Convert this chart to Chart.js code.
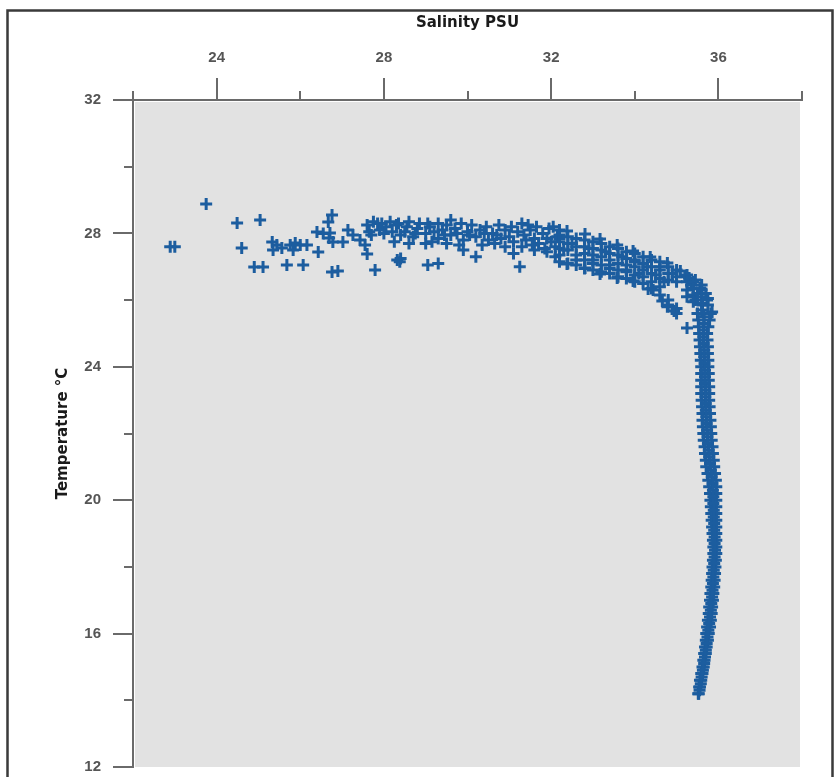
<!DOCTYPE html>
<html><head><meta charset="utf-8">
<script src="https://cdn.jsdelivr.net/npm/chart.js@4.4.1/dist/chart.umd.min.js"></script>
<style>html,body{margin:0;padding:0;background:#fff;overflow:hidden}canvas{display:block}</style>
</head><body>
<canvas id="c" width="836" height="777"></canvas>
<script>
// ---- labels ----
const xTitle = 'Salinity PSU';
const yTitle = 'Temperature °C';
const xTickLabels = [24, 28, 32, 36];
const yTickLabels = [12, 16, 20, 24, 28, 32];

// ---- surface (low-salinity) scatter ----
const surfaceSal  = [22.89,23.0,23.75,24.49,25.04,24.6,24.9,25.11,25.33,25.35,25.44,25.56,25.68,25.76,25.83,25.88,26.0,26.07,26.16,26.4,26.43,26.55,26.67,26.71,26.69,26.76,26.78,26.76,26.9,27.02,27.14,27.26,27.43,27.55,27.6,27.79,28.32,28.4,28.38];
const surfaceTemp = [27.6,27.6,28.88,28.31,28.4,27.56,26.99,26.99,27.74,27.5,27.65,27.56,27.05,27.65,27.5,27.71,27.65,27.05,27.65,28.04,27.44,28.0,28.34,28.01,27.86,28.55,27.74,26.84,26.87,27.74,28.1,27.95,27.8,27.65,27.38,26.9,27.2,27.25,27.15];

// ---- mixed layer band ----
const mixedSal  = [27.6,27.85,28.05,28.3,28.55,28.8,29.1,29.4,29.6,29.7,30.0,30.3,30.6,30.9,31.2,31.3,31.5,31.8,32.05,
                   27.7,28.0,28.4,28.7,29.0,29.3,29.6,29.9,30.2,30.5,30.8,31.1,31.4,31.7,32.0,
                   29.0,29.05,29.3,29.9,30.2,30.65,31.1,31.25,31.6,31.9];
const mixedTemp = [28.25,28.3,28.2,28.25,28.2,28.15,28.2,28.1,28.4,28.15,28.05,28.1,28.0,28.1,28.05,28.3,28.1,28.0,28.2,
                   27.95,28.0,27.95,27.9,28.0,27.85,27.95,27.8,27.9,27.8,27.85,27.75,27.8,27.7,27.75,
                   27.7,27.05,27.1,27.5,27.3,27.7,27.4,27.0,27.5,27.45];
const mixed2Sal  = [27.75,27.95,28.15,28.35,28.6,28.85,29.05,29.3,29.5,29.85,30.1,30.45,30.75,31.05,31.45,31.65,31.95,32.2,
                    27.65,27.9,28.2,28.5,28.75,29.2,29.45,29.75,30.05,30.4,30.7,31.0,31.35,31.6,31.9,32.15,
                    28.25,28.6,29.15,29.5,29.8,30.35,30.9,31.3,31.55,31.85,32.1];
const mixed2Temp = [28.35,28.3,28.35,28.3,28.35,28.3,28.3,28.3,28.25,28.3,28.25,28.2,28.25,28.2,28.25,28.2,28.15,28.1,
                    28.05,28.1,28.05,28.05,28.0,28.05,27.95,28.0,27.95,28.0,27.95,27.9,27.95,27.85,27.85,27.9,
                    27.75,27.7,27.75,27.7,27.65,27.65,27.6,27.6,27.65,27.55,27.6];

// ---- upper thermocline curve ----
const curveSal  = [32.38,32.81,33.17,33.58,33.96,34.37,34.78,35.09,35.3,35.56,35.73,35.85,
                   32.2,32.5,32.3,32.6,32.1,32.9,33.0,33.3,33.4,33.7,33.8,34.0,34.1,34.3,34.5,34.6,34.7,34.9,35.35,35.5,35.6,35.45,35.62,35.7,35.2,35.45,
                   32.38,32.81,33.17,33.58,33.96,34.32,34.44,34.66,34.78,34.94,35.25];
const curveTemp = [28.07,27.98,27.83,27.65,27.47,27.29,27.11,26.87,26.66,26.36,26.0,25.64,
                   27.85,27.7,27.5,27.35,27.3,27.55,27.2,27.45,27.05,27.3,26.9,27.15,26.8,27.0,26.75,27.0,26.55,26.8,26.45,26.2,26.45,26.0,25.85,26.2,26.7,26.6,
                   27.08,26.96,26.78,26.66,26.57,26.33,26.3,25.97,25.8,25.67,25.16];
const curve2Sal  = [32.2,32.2,32.2,32.2,32.2, 32.4,32.4,32.4,32.4, 32.6,32.6,32.6,32.6, 32.8,32.8,32.8,32.8,32.8,
                    33.0,33.0,33.0,33.0,33.0, 33.2,33.2,33.2,33.2,33.2, 33.4,33.4,33.4,33.4,33.4, 33.6,33.6,33.6,33.6,33.6,
                    33.8,33.8,33.8,33.8,33.8, 34.0,34.0,34.0,34.0,34.0, 34.2,34.2,34.2,34.2,34.2, 34.4,34.4,34.4,34.4,34.4,
                    34.6,34.6,34.6,34.6,34.6, 34.8,34.8,34.8,34.8,34.8, 35.0,35.0,35.0,35.0,35.0, 35.25,35.25,35.25,35.25,
                    35.4,35.4,35.4,35.4, 35.6,35.6,35.6,35.6, 35.75,35.75];
const curve2Temp = [27.95,27.75,27.55,27.35,27.15, 27.9,27.7,27.5,27.1, 27.85,27.6,27.2,27.05, 27.8,27.6,27.4,27.2,26.95,
                    27.75,27.55,27.35,27.1,26.9, 27.7,27.5,27.3,27.05,26.85, 27.6,27.4,27.2,26.95,26.8, 27.55,27.35,27.1,26.9,26.7,
                    27.45,27.25,27.05,26.85,26.65, 27.4,27.2,27.0,26.75,26.55, 27.3,27.1,26.9,26.7,26.5, 27.2,27.0,26.8,26.55,26.35,
                    27.15,26.9,26.65,26.4,26.15, 27.0,26.8,26.6,26.0,25.85, 26.9,26.7,26.55,25.75,25.6, 26.75,26.55,26.3,26.1,
                    26.55,26.35,26.15,25.95, 26.3,26.1,25.9,25.7, 26.05,25.85];

// ---- deep tail (edges and centre of the band) ----
const tailTemp     = [25.6,25.4,25.2,25.0,24.8,24.6,24.4,24.2,24.0,23.8,23.6,23.4,23.2,23.0,22.8,22.6,22.4,22.2,22.0,21.8,21.6,21.4,21.2,21.0,20.8,20.6,20.4,20.2,20.0,19.8,19.6,19.4,19.2,19.0,18.8,18.6,18.4,18.2,18.0,17.8,17.6,17.4,17.2,17.0,16.8,16.6,16.4,16.2,16.0,15.8,15.6,15.4,15.2,15.0,14.8,14.6,14.4,14.2];
const tailSalLeft  = [35.50,35.52,35.53,35.54,35.55,35.56,35.57,35.58,35.59,35.59,35.59,35.59,35.59,35.60,35.61,35.62,35.62,35.63,35.64,35.65,35.67,35.68,35.70,35.71,35.74,35.76,35.78,35.80,35.81,35.82,35.83,35.84,35.85,35.86,35.87,35.88,35.88,35.87,35.86,35.85,35.84,35.83,35.81,35.80,35.78,35.77,35.75,35.73,35.71,35.70,35.68,35.66,35.64,35.62,35.59,35.56,35.54,35.52];
const tailSalRight = [35.82,35.79,35.76,35.73,35.74,35.75,35.75,35.76,35.76,35.77,35.77,35.78,35.78,35.78,35.79,35.80,35.81,35.82,35.83,35.84,35.86,35.87,35.89,35.90,35.92,35.94,35.95,35.95,35.95,35.95,35.95,35.95,35.95,35.95,35.95,35.95,35.95,35.94,35.93,35.92,35.91,35.90,35.88,35.87,35.85,35.84,35.82,35.80,35.77,35.75,35.72,35.70,35.67,35.65,35.62,35.59,35.56,35.53];
const tailMidTemp  = [25.5,25.3,25.1,24.9,24.7,24.5,24.3,24.1,23.9,23.7,23.5,23.3,23.1,22.9,22.7,22.5,22.3,22.1,21.9,21.7,21.5,21.3,21.1,20.9,20.7,20.5,20.3,20.1,19.9,19.7,19.5,19.3,19.1,18.9,18.7,18.5,18.3,18.1,17.9,17.7,17.5,17.3,17.1,16.9,16.7,16.5,16.3,16.1,15.9,15.7,15.5,15.3,15.1,14.9,14.7,14.5,14.3];
const tailSalMid   = [35.66,35.65,35.64,35.64,35.65,35.66,35.66,35.67,35.68,35.68,35.68,35.69,35.69,35.70,35.70,35.71,35.72,35.73,35.74,35.75,35.77,35.78,35.80,35.82,35.84,35.86,35.87,35.88,35.88,35.89,35.89,35.90,35.90,35.91,35.91,35.92,35.91,35.90,35.89,35.88,35.87,35.86,35.85,35.83,35.82,35.80,35.78,35.76,35.74,35.72,35.70,35.68,35.66,35.63,35.60,35.58,35.55];

const pts = [];
function add(sal, temp){ sal.forEach((s,i)=>pts.push({x:s, y:temp[i]})); }
add(surfaceSal, surfaceTemp);
add(mixedSal, mixedTemp);
add(mixed2Sal, mixed2Temp);
add(curveSal, curveTemp);
add(curve2Sal, curve2Temp);
add(tailSalLeft, tailTemp);
add(tailSalRight, tailTemp);
add(tailSalMid, tailMidTemp);

const AXIS = '#6a6a6a';
const tickFont = {family:"'Liberation Sans Narrow','Liberation Sans',Arial,sans-serif", size:15, weight:'bold'};
const titleFont = {family:"'DejaVu Sans',sans-serif", size:15, weight:'bold'};

const decor = {
  id:'decor',
  beforeDraw(chart){
    const ctx = chart.ctx, a = chart.chartArea;
    ctx.save();
    ctx.fillStyle = '#ffffff';
    ctx.fillRect(0,0,chart.width,chart.height);
    ctx.fillStyle = '#e2e2e2';
    ctx.fillRect(a.left+2, a.top+2, a.right-a.left-4, a.bottom-a.top-2);
    ctx.strokeStyle = '#3a3a3a';
    ctx.lineWidth = 2.5;
    ctx.beginPath();
    ctx.moveTo(7.5, chart.height); ctx.lineTo(7.5, 10.5); ctx.lineTo(832.5, 10.5); ctx.lineTo(832.5, chart.height);
    ctx.stroke();
    ctx.restore();
  },
  afterDraw(chart){
    const ctx = chart.ctx, a = chart.chartArea, xs = chart.scales.x, ys = chart.scales.y;
    ctx.save();
    ctx.strokeStyle = AXIS; ctx.lineWidth = 2;
    ctx.beginPath();
    xs.ticks.forEach(t=>{
      const p = Math.round(xs.getPixelForValue(t.value));
      const L = xTickLabels.includes(t.value) ? 22 : 9;
      ctx.moveTo(p, a.top); ctx.lineTo(p, a.top - L);
    });
    ys.ticks.forEach(t=>{
      const p = Math.round(ys.getPixelForValue(t.value));
      const L = yTickLabels.includes(t.value) ? 20 : 9;
      ctx.moveTo(a.left, p); ctx.lineTo(a.left - L, p);
    });
    ctx.stroke();
    ctx.restore();
  }
};

new Chart(document.getElementById('c'), {
  type:'scatter',
  data:{datasets:[{
    data:pts,
    pointStyle:'cross',
    pointRadius:6,
    pointBorderWidth:3,
    borderColor:'#1c5d9f',
    backgroundColor:'#1c5d9f'
  }]},
  options:{
    responsive:false,
    animation:false,
    events:[],
    layout:{padding:{left:0, top:0, right:34, bottom:10}},
    plugins:{legend:{display:false}, tooltip:{enabled:false}},
    scales:{
      x:{
        type:'linear', position:'top', min:22, max:38,
        ticks:{stepSize:2, autoSkip:false, maxRotation:0, padding:11, color:'#555', font:tickFont,
               callback:v=> xTickLabels.includes(v) ? String(v) : ''},
        grid:{drawOnChartArea:false, drawTicks:true, tickLength:22, tickColor:'rgba(0,0,0,0)'},
        border:{display:true, color:AXIS, width:2},
        title:{display:true, text:xTitle, color:'#1a1a1a', font:titleFont, padding:{top:14, bottom:0}},
        afterFit(s){ s.height = 100; s.paddingLeft = 0; s.paddingRight = 0; }
      },
      y:{
        type:'linear', position:'left', min:12, max:32,
        ticks:{stepSize:2, autoSkip:false, padding:12, color:'#555', font:tickFont,
               callback:v=> yTickLabels.includes(v) ? String(v) : ''},
        grid:{drawOnChartArea:false, drawTicks:true, tickLength:20, tickColor:'rgba(0,0,0,0)'},
        border:{display:true, color:AXIS, width:2},
        title:{display:true, text:yTitle, color:'#1a1a1a', font:titleFont, padding:{top:54, bottom:0}},
        afterFit(s){ s.width = 133; s.paddingTop = 0; s.paddingBottom = 0; }
      }
    }
  },
  plugins:[decor]
});
</script>
</body></html>
